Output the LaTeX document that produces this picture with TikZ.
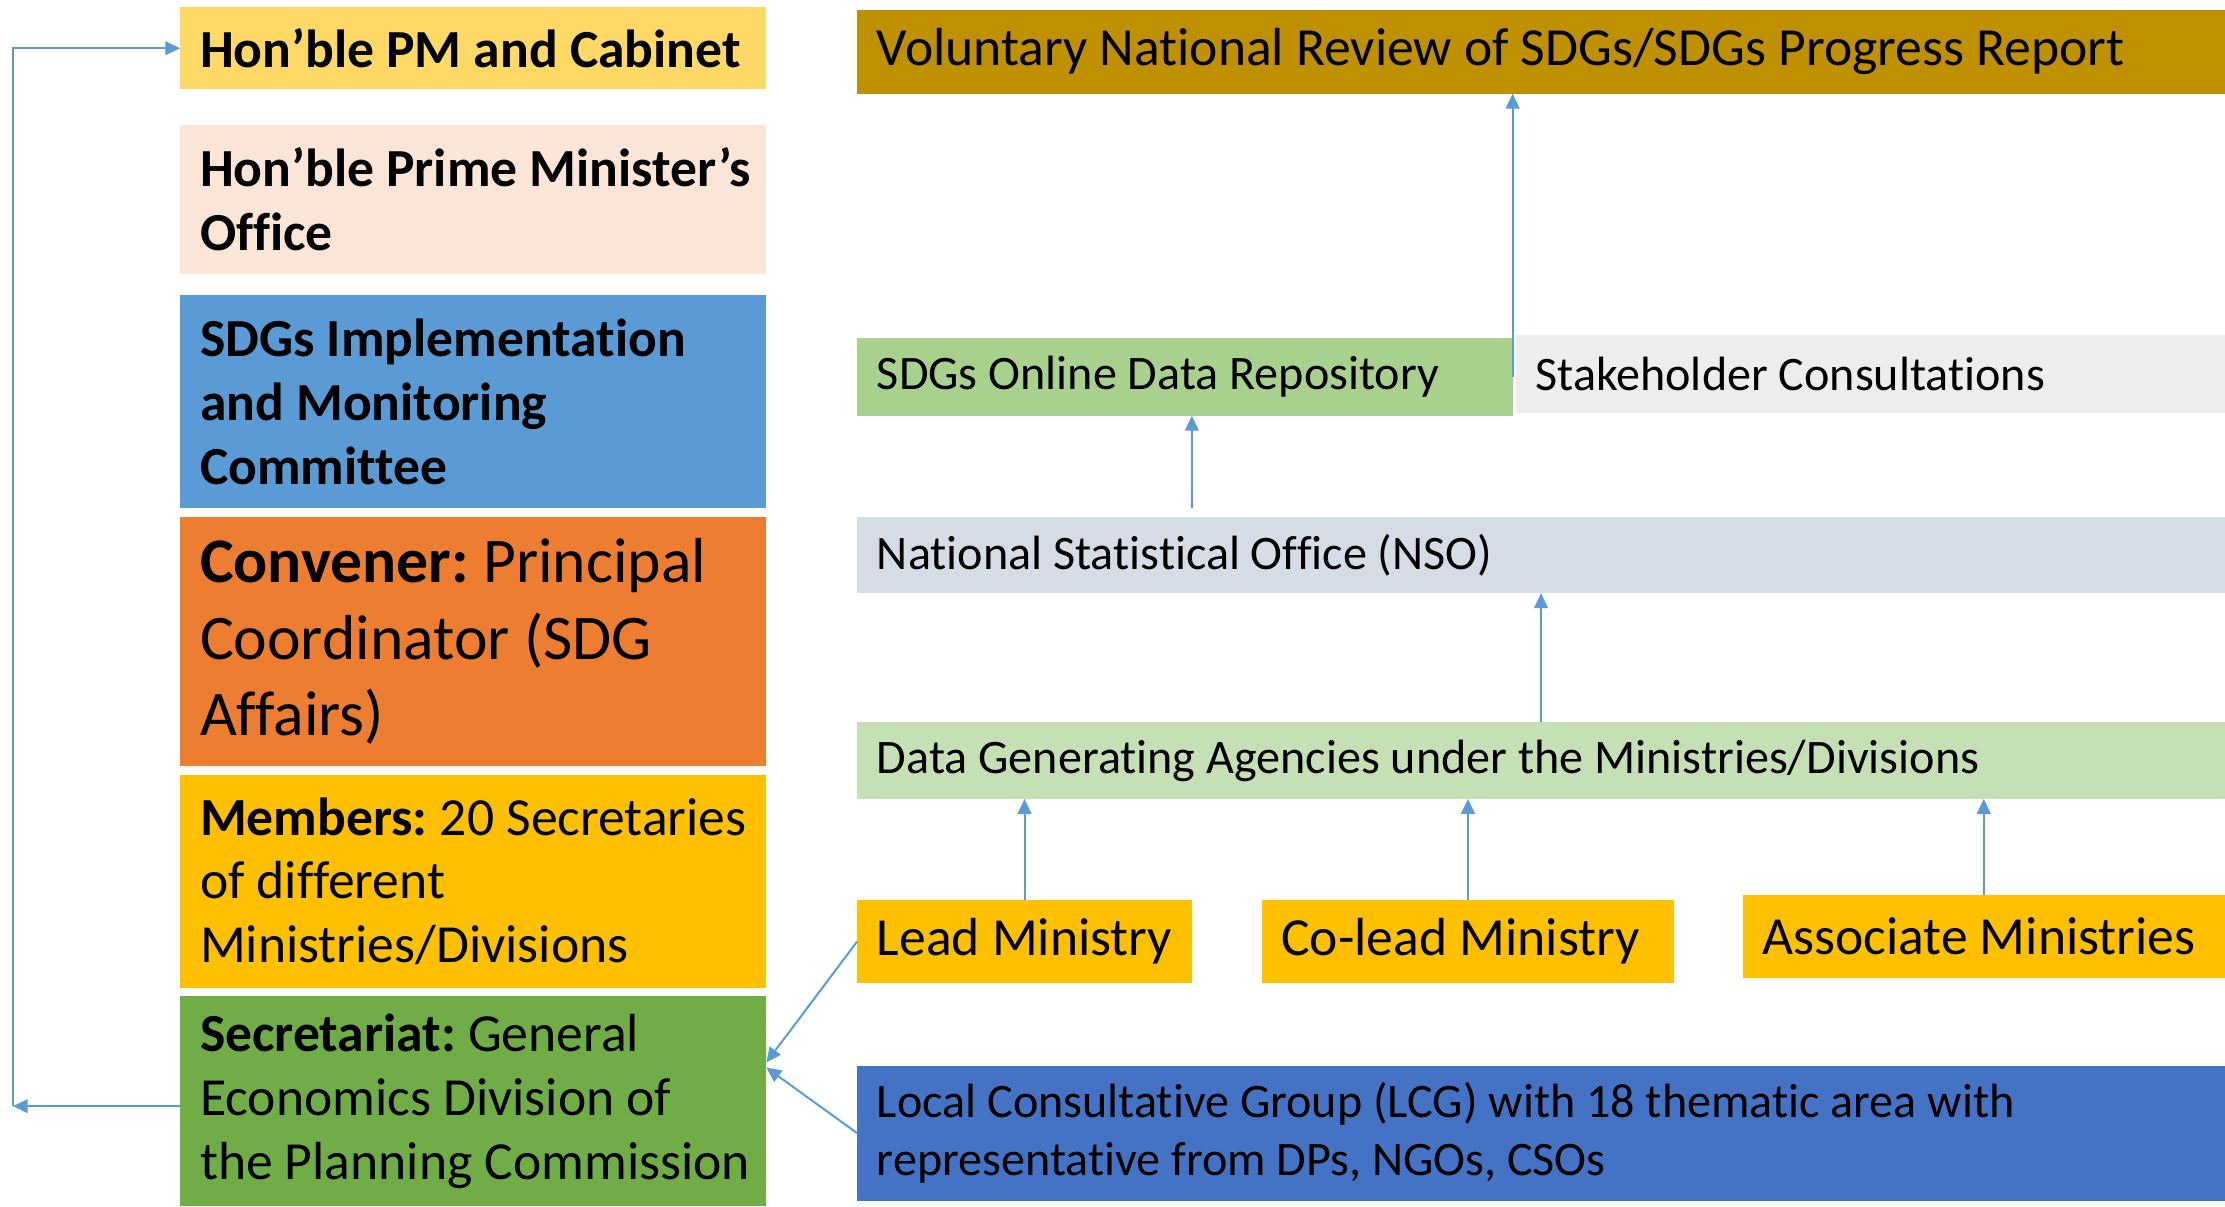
\documentclass[tikz,border=0pt]{standalone}
\usepackage{fontspec}
\setmainfont{Carlito}[Ligatures=NoCommon]
\usepackage{tikz}
\usetikzlibrary{arrows.meta,calc}

\definecolor{pmgold}{HTML}{FFD966}
\definecolor{pmopeach}{HTML}{FBE5D6}
\definecolor{sdgblue}{HTML}{5B9BD5}
\definecolor{convorange}{HTML}{ED7D31}
\definecolor{ministrygold}{HTML}{FFC000}
\definecolor{secgreen}{HTML}{70AD47}
\definecolor{vnrgold}{HTML}{BF9000}
\definecolor{repogreen}{HTML}{A9D18E}
\definecolor{stakegray}{HTML}{EDEDED}
\definecolor{nsogray}{HTML}{D6DCE5}
\definecolor{dgagreen}{HTML}{C5E0B4}
\definecolor{lcgblue}{HTML}{4472C4}
\definecolor{linkblue}{HTML}{5B9BD5}

\tikzset{
  box/.style 2 args={anchor=north west, inner xsep=0.28cm, inner ysep=0pt,
    outer sep=0pt, align=left, minimum width=#1*0.02cm,
    minimum height=#2*0.02cm, text width=#1*0.02cm-0.56cm,
    execute at begin node={\frenchspacing\spaceskip=0pt\xspaceskip=0pt
      \hyphenpenalty=10000\rightskip=-3cm plus 1fil}},
  bigtext/.style={font=\fontsize{21.5}{25.6}\selectfont},
  convtext/.style={font=\fontsize{25.5}{30.7}\selectfont},
  smalltext/.style={font=\fontsize{19.3}{23.3}\selectfont},
  link/.style={draw=linkblue, line width=0.8pt,
    -{Triangle[width=5.5pt,length=6pt]}}
}

\begin{document}
\begin{tikzpicture}[x=0.02cm,y=-0.02cm]
  \useasboundingbox (0,0) rectangle (1568,850);

  % left column
  \node[box={413}{58}, fill=pmgold, bigtext] (pm) at (127,5)
    {\textbf{Hon’ble PM and Cabinet}};
  \node[box={413}{105}, fill=pmopeach, bigtext] (pmo) at (127,88)
    {\textbf{Hon’ble Prime Minister’s}\\\textbf{Office}};
  \node[box={413}{150}, fill=sdgblue, bigtext] (sdg) at (127,208)
    {\textbf{SDGs Implementation}\\\textbf{and Monitoring}\\\textbf{Committee}};
  \node[box={413}{176}, fill=convorange, convtext] (conv) at (127,364)
    {\textbf{Convener:} Principal\\Coordinator (SDG\\Affairs)};
  \node[box={413}{150}, fill=ministrygold, bigtext] (memb) at (127,546)
    {\textbf{Members:} 20 Secretaries\\of different\\Ministries/Divisions};
  \node[box={413}{148}, fill=secgreen, bigtext] (secr) at (127,702)
    {\textbf{Secretariat:} General\\Economics Division of\\the Planning Commission};

  % right column
  \node[box={964}{59}, fill=vnrgold, bigtext] (vnr) at (604,7)
    {Voluntary National Review of SDGs/SDGs Progress Report};
  \node[box={462}{55}, fill=repogreen, smalltext] (repo) at (604,238)
    {SDGs Online Data Repository};
  \node[box={500}{55}, fill=stakegray, smalltext] (stake) at (1068,236)
    {Stakeholder Consultations};
  \node[box={964}{54}, fill=nsogray, smalltext] (nso) at (604,364)
    {National Statistical Office (NSO)};
  \node[box={964}{54}, fill=dgagreen, smalltext] (dga) at (604,509)
    {Data Generating Agencies under the Ministries/Divisions};
  \node[box={236}{59}, fill=ministrygold, bigtext] (lead) at (604,634)
    {Lead Ministry};
  \node[box={291}{59}, fill=ministrygold, bigtext] (colead) at (889,634)
    {Co-lead Ministry};
  \node[box={340}{58}, fill=ministrygold, bigtext] (assoc) at (1228,631)
    {Associate Ministries};
  \node[box={964}{95}, fill=lcgblue, smalltext] (lcg) at (604,751)
    {Local Consultative Group (LCG) with 18 thematic area with\\representative from DPs, NGOs, CSOs};

  % connectors
  \coordinate (leftx) at (9,0);
  \coordinate (leadhit) at ([yshift=15.5pt]secr.east);
  \coordinate (lcghit) at ([yshift=13.5pt]secr.east);
  \coordinate (repofoot) at ([xshift=2.8pt]repo.south);

  \draw[link] ([yshift=-2pt]secr.west) -- ([yshift=-2pt]secr.west -| leftx);
  \draw[link] ([yshift=-2pt]secr.west -| leftx) -- (pm.west -| leftx) -- (pm.west);
  \draw[link] (lead.west) -- (leadhit);
  \draw[link] (lcg.west) -- (lcghit);
  \draw[link] (lead.north) -- (lead.north |- dga.south);
  \draw[link] (colead.north) -- (colead.north |- dga.south);
  \draw[link] (assoc.north) -- (assoc.north |- dga.south);
  \draw[link] (dga.north) -- (nso.south);
  \draw[link, shorten <=3.4pt] (repofoot |- nso.north) -- (repofoot);
  \draw[link] (repo.east) -- (repo.east |- vnr.south);
\end{tikzpicture}
\end{document}
